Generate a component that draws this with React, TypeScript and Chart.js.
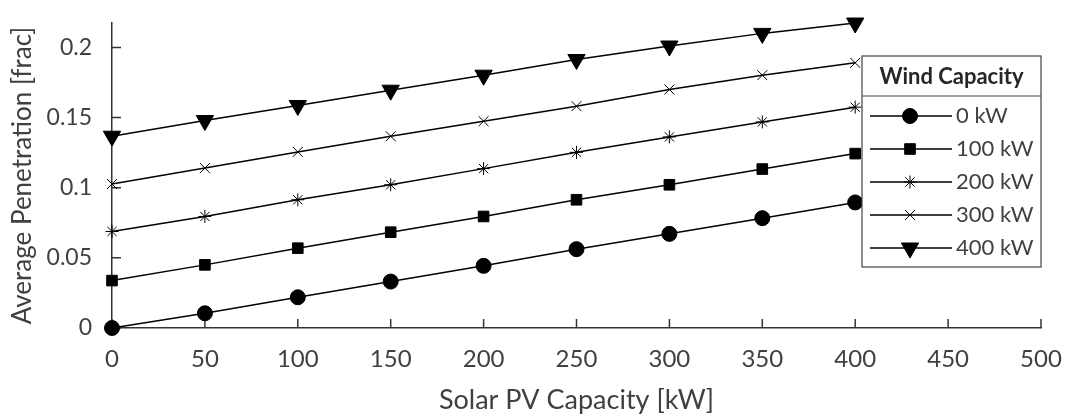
import React, { useEffect, useRef } from 'react';
import { Chart, registerables } from 'chart.js';
import { drawPoint } from 'chart.js/helpers';

Chart.register(...registerables);

// ---- data ----
const solarCapacity = [0, 50, 100, 150, 200, 250, 300, 350, 400];
const wind0 = [0, 0.0105, 0.0219, 0.0331, 0.0443, 0.0562, 0.0671, 0.0783, 0.0895];
const wind100 = [0.0338, 0.045, 0.0569, 0.0683, 0.0795, 0.0914, 0.1021, 0.1133, 0.1243];
const wind200 = [0.0688, 0.0795, 0.0914, 0.1021, 0.1136, 0.1252, 0.1362, 0.1469, 0.1574];
const wind300 = [0.1026, 0.114, 0.1255, 0.1367, 0.1474, 0.1581, 0.17, 0.1802, 0.189];
const wind400 = [0.1367, 0.1479, 0.1586, 0.1695, 0.1802, 0.1914, 0.201, 0.21, 0.2174];
const seriesLabels = ['0 kW', '100 kW', '200 kW', '300 kW', '400 kW'];
const xTickValues = [0, 50, 100, 150, 200, 250, 300, 350, 400, 450, 500];
const yTickValues = [0, 0.05, 0.1, 0.15, 0.2];
const legendTitle = 'Wind Capacity';
const xTitle = 'Solar PV Capacity [kW]';
const yTitle = 'Average Penetration [frac]';

const FONT = 'Lato, "Liberation Sans", sans-serif';
const TEXT = '#404040';
const AXIS = '#333333';

const markerStyles = [
  { pointStyle: 'circle', radius: 7.5, rotation: 0 },
  { pointStyle: 'rect', radius: 7.5, rotation: 0 },
  { pointStyle: 'star', radius: 6.5, rotation: 0 },
  { pointStyle: 'crossRot', radius: 7, rotation: 0 },
  { pointStyle: 'triangle', radius: 10, rotation: 180 },
];

const allSeries = [wind0, wind100, wind200, wind300, wind400];

const inwardTicks = {
  id: 'inwardTicks',
  beforeDatasetsDraw(chart: any) {
    const { ctx, chartArea } = chart;
    const xs = chart.scales.x;
    const ys = chart.scales.y;
    ctx.save();
    ctx.strokeStyle = AXIS;
    ctx.lineWidth = 1.5;
    ctx.beginPath();
    xs.ticks.forEach((t: any) => {
      const px = xs.getPixelForValue(t.value);
      ctx.moveTo(px, chartArea.bottom);
      ctx.lineTo(px, chartArea.bottom - 9);
    });
    ys.ticks.forEach((t: any) => {
      const py = ys.getPixelForValue(t.value);
      ctx.moveTo(chartArea.left, py);
      ctx.lineTo(chartArea.left + 9, py);
    });
    ctx.stroke();
    ctx.restore();
  },
};

const boxLegend = {
  id: 'boxLegend',
  afterDraw(chart: any) {
    const { ctx, chartArea } = chart;
    const w = 179;
    const right = chartArea.right;
    const left = right - w;
    const top = chartArea.top + 33;
    const titleH = 40;
    const rowH = 33;
    const n = chart.data.datasets.length;
    const h = titleH + 20 + rowH * (n - 1) + 19;
    ctx.save();
    ctx.fillStyle = '#ffffff';
    ctx.fillRect(left, top, w, h);
    ctx.strokeStyle = '#444444';
    ctx.lineWidth = 1.2;
    ctx.strokeRect(left, top, w, h);
    ctx.beginPath();
    ctx.moveTo(left, top + titleH);
    ctx.lineTo(right, top + titleH);
    ctx.stroke();
    ctx.fillStyle = '#262626';
    ctx.font = 'bold 22px ' + FONT;
    ctx.textAlign = 'center';
    ctx.textBaseline = 'middle';
    ctx.fillText(legendTitle, left + w / 2, top + titleH / 2 + 1);
    chart.data.datasets.forEach((ds: any, i: number) => {
      const y = top + titleH + 20 + rowH * i;
      ctx.strokeStyle = '#000';
      ctx.lineWidth = 1.5;
      ctx.beginPath();
      ctx.moveTo(left + 8, y);
      ctx.lineTo(left + 90, y);
      ctx.stroke();
      ctx.fillStyle = '#000';
      ctx.strokeStyle = '#000';
      ctx.lineWidth = 1;
      drawPoint(ctx, {
        pointStyle: ds.pointStyle,
        radius: ds.pointRadius,
        rotation: ds.pointRotation,
        borderWidth: 1,
      } as any, left + 48, y);
      ctx.fillStyle = TEXT;
      ctx.font = '22px ' + FONT;
      ctx.textAlign = 'left';
      ctx.textBaseline = 'middle';
      ctx.fillText(ds.label, left + 94, y);
    });
    ctx.restore();
  },
};

export default function App() {
  const ref = useRef<HTMLCanvasElement | null>(null);
  useEffect(() => {
    if (!ref.current) return;
    const yMax = Math.max(...allSeries.flat());
    const chart = new Chart(ref.current, {
      type: 'line',
      data: {
        datasets: allSeries.map((s, i) => ({
          label: seriesLabels[i],
          data: solarCapacity.map((x, j) => ({ x, y: s[j] })),
          borderColor: '#000',
          backgroundColor: '#000',
          borderWidth: 1.5,
          pointStyle: markerStyles[i].pointStyle as any,
          pointRadius: markerStyles[i].radius,
          pointRotation: markerStyles[i].rotation,
          pointBorderWidth: 1,
          pointBorderColor: '#000',
          pointBackgroundColor: '#000',
          tension: 0,
          clip: false as any,
        })),
      },
      plugins: [inwardTicks, boxLegend],
      options: {
        animation: false,
        responsive: true,
        maintainAspectRatio: false,
        layout: { padding: { left: 0, right: 24, top: 23, bottom: 0 } },
        plugins: { legend: { display: false }, tooltip: { enabled: false } },
        scales: {
          x: {
            type: 'linear',
            min: 0,
            max: 500,
            afterBuildTicks: (s: any) => { s.ticks = xTickValues.map((v) => ({ value: v })); },
            afterFit: (s: any) => { s.height = 89; s.paddingRight = 0; s.paddingLeft = 0; },
            grid: { display: false },
            border: { display: true, color: AXIS, width: 1.5 },
            ticks: { color: TEXT, font: { family: FONT, size: 24 }, padding: 9, maxRotation: 0, autoSkip: false },
            title: { display: true, text: xTitle, color: TEXT, font: { family: FONT, size: 27 }, padding: { top: 0, bottom: 1 } },
          },
          y: {
            type: 'linear',
            min: 0,
            max: yMax,
            afterBuildTicks: (s: any) => { s.ticks = yTickValues.map((v) => ({ value: v })); },
            afterFit: (s: any) => { s.width = 112; s.paddingTop = 0; s.paddingBottom = 0; },
            grid: { display: false },
            border: { display: true, color: AXIS, width: 1.5 },
            ticks: { color: TEXT, font: { family: FONT, size: 23 }, padding: 12, callback: (v: any) => String(Number(v)) },
            title: { display: true, text: yTitle, color: TEXT, font: { family: FONT, size: 26 }, padding: { top: 7, bottom: 0 } },
          },
        },
      },
    });
    return () => chart.destroy();
  }, []);
  return (
    <div style={{ position: 'fixed', left: 0, top: 0, width: 1065, height: 417, background: '#fff' }}>
      <canvas ref={ref} />
    </div>
  );
}
